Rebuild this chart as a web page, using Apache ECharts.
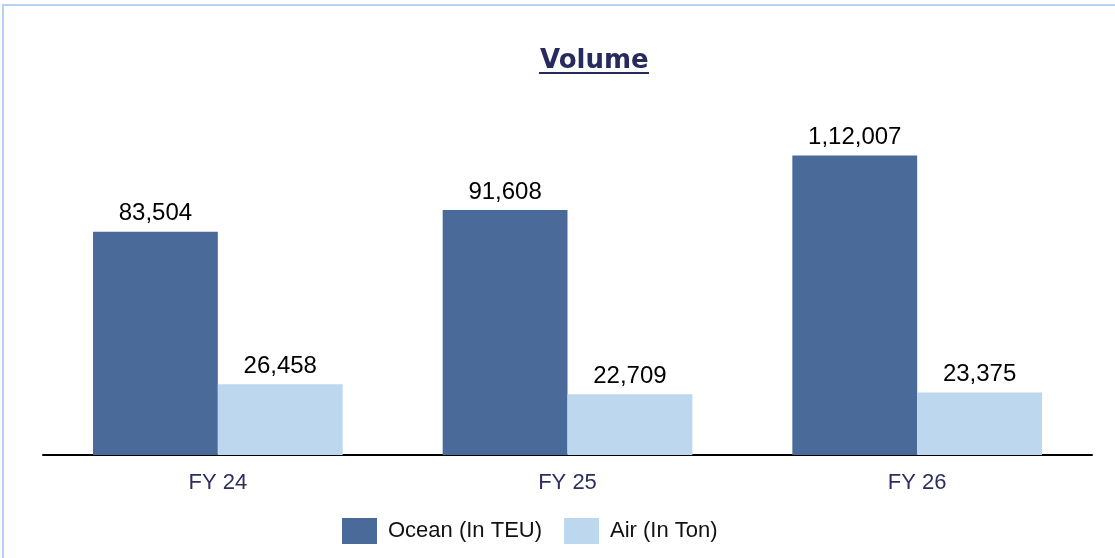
<!DOCTYPE html>
<html>
<head>
<meta charset="utf-8">
<script src="https://cdn.jsdelivr.net/npm/echarts@6/dist/echarts.min.js"></script>
<style>
  html, body { margin: 0; padding: 0; background: #fff; overflow: hidden; }
  .frame {
    position: absolute; left: 2px; top: 4px;
    width: 1200px; height: 600px;
    border: 2px solid #b7d0f3;
  }
  #chart { position: absolute; left: 0; top: 0; width: 1115px; height: 558px; }
</style>
</head>
<body>
<div class="frame"></div>
<div id="chart"></div>
<script>
const categories = ["FY 24", "FY 25", "FY 26"];
const oceanTeu = [83504, 91608, 112007];
const airTon = [26458, 22709, 23375];
const seriesNames = ["Ocean (In TEU)", "Air (In Ton)"];

// indian style grouping: 1,12,007
function fmtIN(v) {
  const s = String(Math.round(v));
  if (s.length <= 3) return s;
  const last3 = s.slice(-3);
  const rest = s.slice(0, -3).replace(/\B(?=(\d{2})+(?!\d))/g, ",");
  return rest + "," + last3;
}

const chart = echarts.init(document.getElementById("chart"));
const font = "'Liberation Sans', Arial, sans-serif";
const navy = "#262a5c";

const barLabel = {
  show: true, position: "top", distance: 6,
  fontSize: 24, color: "#000", fontFamily: font,
  formatter: p => fmtIN(p.value)
};

const option = {
  animation: false,
  textStyle: { fontFamily: font },
  graphic: [
    {
      type: "text", left: 540, top: 48,
      style: { text: "Volume", font: "bold 26px 'DejaVu Sans'", fill: navy }
    },
    { type: "line", shape: { x1: 539, y1: 73, x2: 649, y2: 73 }, style: { stroke: navy, lineWidth: 2 } }
  ],
  legend: {
    left: 337,
    top: 513,
    itemWidth: 35,
    itemHeight: 26,
    itemGap: 22,
    icon: "rect",
    textStyle: { fontSize: 22, color: "#111", fontFamily: font, padding: [0, 0, 0, 6] }
  },
  grid: { left: 43, right: 23, top: 134, bottom: 103 },
  xAxis: {
    type: "category",
    data: categories,
    axisLine: { lineStyle: { color: "#000", width: 2 } },
    axisTick: { show: false },
    axisLabel: { fontSize: 22, color: "#2b2f5e", margin: 17, fontFamily: font }
  },
  yAxis: {
    type: "value",
    min: 0,
    max: 120000,
    show: false,
    splitLine: { show: false }
  },
  series: [
    {
      name: seriesNames[0],
      type: "bar",
      data: oceanTeu,
      barGap: "0%",
      barCategoryGap: "28.6%",
      itemStyle: { color: "#4a6b9a" },
      label: barLabel
    },
    {
      name: seriesNames[1],
      type: "bar",
      data: airTon,
      barGap: "0%",
      barCategoryGap: "28.6%",
      itemStyle: { color: "#bdd7ee" },
      label: barLabel
    }
  ]
};
chart.setOption(option);
</script>
</body>
</html>
